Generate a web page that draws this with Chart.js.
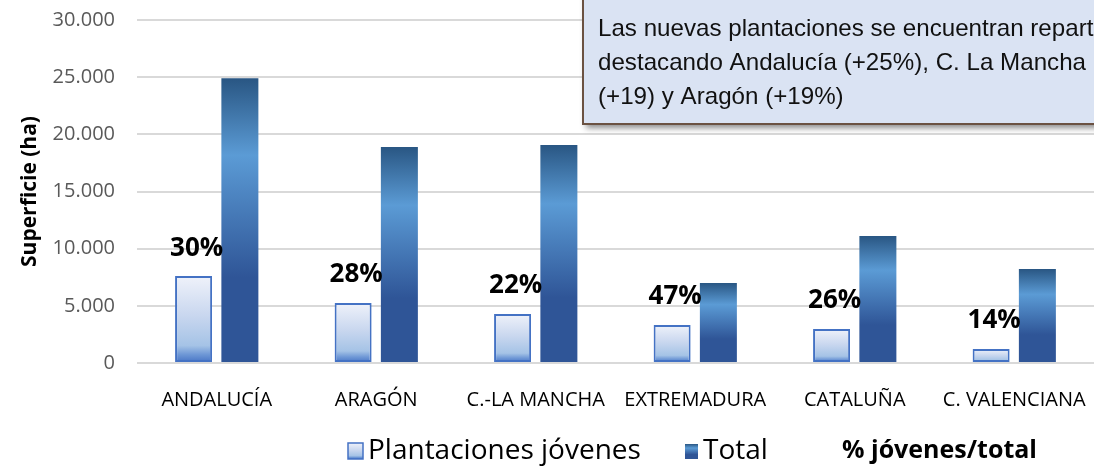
<!DOCTYPE html>
<html>
<head>
<meta charset="utf-8">
<script src="https://cdn.jsdelivr.net/npm/chart.js@4.4.1/dist/chart.umd.min.js"></script>
<style>
  html, body { margin: 0; padding: 0; background: #fff; }
  #wrap { width: 1094px; height: 467px; }
</style>
</head>
<body>
<div id="wrap"><canvas id="myChart" width="1094" height="467"></canvas></div>
<script>
const categories = ["ANDALUCÍA", "ARAGÓN", "C.-LA MANCHA", "EXTREMADURA", "CATALUÑA", "C. VALENCIANA"];
const jovenes = [7600, 5250, 4290, 3330, 2975, 1225];
const total = [24900, 18900, 19070, 7000, 11110, 8220];
const pctLabels = ["30%", "28%", "22%", "47%", "26%", "14%"];
const seriesNames = ["Plantaciones jóvenes", "Total"];
const pctLegend = "% jóvenes/total";
const noteLines = [
  "Las nuevas plantaciones se encuentran repartidas",
  "destacando Andalucía (+25%), C. La Mancha",
  "(+19) y Aragón (+19%)",
];

const FONT = "'Open Sans', 'Noto Sans', sans-serif";

// degradados de las barras (como en Excel)
const jovenesStops = [[0, "#eff2fa"], [0.45, "#c9d7ef"], [0.8, "#a5c3e6"], [0.9, "#6f98d6"], [1, "#4472c4"]];
const totalStops = [[0, "#295683"], [0.27, "#5b9bd5"], [0.7, "#2f5597"], [1, "#2f5597"]];

function makeGradient(c, top, bottom, stops) {
  const g = c.createLinearGradient(0, top, 0, bottom);
  stops.forEach(s => g.addColorStop(s[0], s[1]));
  return g;
}

function barFill(stops) {
  return function (context) {
    const chart = context.chart;
    if (!chart.chartArea || context.type !== "data") return stops[0][1];
    const y = chart.scales.y;
    return makeGradient(chart.ctx, y.getPixelForValue(context.raw), y.getPixelForValue(0), stops);
  };
}

function fmtMiles(v) {
  return String(v).replace(/\B(?=(\d{3})+(?!\d))/g, ".");
}

const ctx = document.getElementById("myChart").getContext("2d");

new Chart(ctx, {
  type: "bar",
  data: {
    labels: categories,
    datasets: [
      {
        label: seriesNames[0],
        data: jovenes,
        backgroundColor: barFill(jovenesStops),
        borderColor: "#4472c4",
        borderWidth: 2,
        borderSkipped: false,
        categoryPercentage: 0.58,
        barPercentage: 0.8,
      },
      {
        label: seriesNames[1],
        data: total,
        backgroundColor: barFill(totalStops),
        borderWidth: 0,
        categoryPercentage: 0.58,
        barPercentage: 0.8,
      },
    ],
  },
  options: {
    responsive: false,
    animation: false,
    layout: { padding: { top: 20, right: -3, bottom: 60, left: 0 } },
    plugins: {
      legend: { display: false },
      tooltip: { enabled: false },
    },
    scales: {
      x: {
        grid: { display: false },
        border: { display: false },
        ticks: { color: "#000", font: { family: FONT, size: 20 }, padding: 17, maxRotation: 0, autoSkip: false },
        afterFit(scale) {
          scale.height = 44;
          scale.paddingLeft = 0;
          scale.paddingRight = 0;
        },
      },
      y: {
        min: 0,
        max: 30000,
        ticks: {
          stepSize: 5000,
          color: "#595959",
          font: { family: FONT, size: 20 },
          padding: 22,
          callback: v => fmtMiles(v),
        },
        grid: { color: "#d9d9d9", lineWidth: 2, drawTicks: false },
        border: { display: false },
        title: {
          display: true,
          text: "Superficie (ha)",
          color: "#000",
          font: { family: FONT, size: 21, weight: "bold" },
          padding: { top: 17, bottom: 0 },
        },
        afterFit(scale) {
          scale.width = 137;
          scale.paddingTop = 0;
          scale.paddingBottom = 0;
        },
      },
    },
  },
  plugins: [
    {
      id: "pctLabels",
      afterDatasetsDraw(chart) {
        const c = chart.ctx;
        const meta = chart.getDatasetMeta(0);
        c.save();
        c.fillStyle = "#000";
        c.font = "bold 26px " + FONT;
        c.textAlign = "center";
        c.textBaseline = "middle";
        meta.data.forEach((bar, i) => {
          c.fillText(pctLabels[i], bar.x + 3, bar.y - 28);
        });
        c.restore();
      },
    },
    {
      id: "customLegend",
      afterDraw(chart) {
        const c = chart.ctx;
        const yMid = 451;
        c.save();
        c.textBaseline = "middle";
        // Plantaciones jóvenes
        c.fillStyle = makeGradient(c, yMid - 8, yMid + 8, jovenesStops);
        c.fillRect(348, yMid - 8, 15, 16);
        c.strokeStyle = "#4472c4";
        c.lineWidth = 1.5;
        c.strokeRect(348, yMid - 8, 15, 16);
        c.fillStyle = "#000";
        c.font = "28px " + FONT;
        c.fillText(seriesNames[0], 368, yMid);
        // Total
        c.fillStyle = makeGradient(c, yMid - 7, yMid + 8, totalStops);
        c.fillRect(685, yMid - 7, 13, 15);
        c.fillStyle = "#000";
        c.fillText(seriesNames[1], 703, yMid);
        // % jóvenes/total
        c.font = "bold 25px " + FONT;
        c.fillText(pctLegend, 842, yMid);
        c.restore();
      },
    },
    {
      id: "noteBox",
      afterDraw(chart) {
        const c = chart.ctx;
        c.save();
        c.shadowColor = "rgba(0,0,0,0.45)";
        c.shadowBlur = 6;
        c.shadowOffsetX = 3;
        c.shadowOffsetY = 4;
        c.fillStyle = "#dae3f3";
        c.fillRect(583, -20, 560, 144);
        c.shadowColor = "transparent";
        c.strokeStyle = "#6b5242";
        c.lineWidth = 2;
        c.strokeRect(583, -20, 560, 144);
        c.fillStyle = "#111";
        c.font = "24px 'Liberation Sans', Arial, sans-serif";
        c.textBaseline = "alphabetic";
        // texto algo estrecho, como en el original
        const sx = 488 / c.measureText(noteLines[1]).width;
        noteLines.forEach((line, i) => {
          c.save();
          c.translate(598, 36 + i * 34);
          c.scale(sx, 1);
          c.fillText(line, 0, 0);
          c.restore();
        });
        c.restore();
      },
    },
  ],
});
</script>
</body>
</html>
